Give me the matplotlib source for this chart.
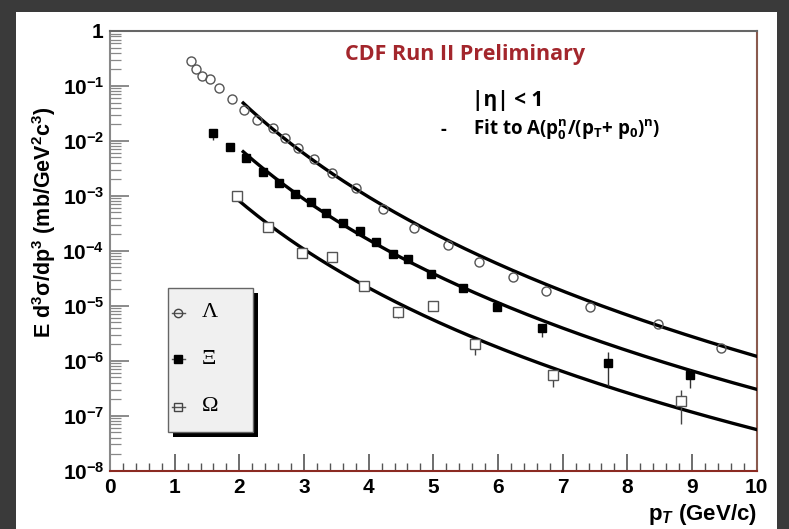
import numpy as np
import matplotlib.pyplot as plt
from matplotlib.patches import Rectangle
from matplotlib.ticker import FixedLocator, LogLocator, MultipleLocator, NullFormatter

plt.rcParams['font.family'] = 'Liberation Sans'
plt.rcParams['mathtext.fontset'] = 'custom'
plt.rcParams['mathtext.rm'] = 'Liberation Sans:bold'
plt.rcParams['mathtext.bf'] = 'Liberation Sans:bold'
plt.rcParams['mathtext.it'] = 'Liberation Sans:bold:italic'
plt.rcParams['mathtext.sf'] = 'Open Sans:bold'

# Lambda spectrum
lam_pt = [1.25, 1.33, 1.42, 1.55, 1.69, 1.88, 2.07, 2.27, 2.52, 2.71, 2.91, 3.15,
          3.44, 3.81, 4.22, 4.70, 5.22, 5.70, 6.23, 6.74, 7.43, 8.47, 9.45]
lam_val = [0.285, 0.201, 0.152, 0.132, 0.0908, 0.0573, 0.0366, 0.0244, 0.0171,
           0.01135, 0.0074, 0.00468, 0.0026, 0.00139, 5.69e-4, 2.59e-4, 1.29e-4,
           6.38e-5, 3.37e-5, 1.84e-5, 9.5e-6, 4.61e-6, 1.68e-6]

# Xi spectrum
xi_pt = [1.60, 1.85, 2.10, 2.37, 2.62, 2.86, 3.11, 3.34, 3.61, 3.86, 4.12, 4.37,
         4.61, 4.97, 5.46, 5.99, 6.68, 7.70, 8.97]
xi_val = [0.01397, 0.00787, 0.00484, 0.00273, 0.00172, 0.00109, 7.78e-4, 4.84e-4,
          3.26e-4, 2.31e-4, 1.42e-4, 8.63e-5, 7.06e-5, 3.82e-5, 2.08e-5, 9.6e-6,
          3.98e-6, 9.2e-7, 5.45e-7]
xi_err_lo = [3.6e-3, 0, 0, 0, 0, 0, 0, 0, 0, 0, 0, 0, 0, 0, 0, 0, 1.25e-6, 5.7e-7, 2.2e-7]
xi_err_hi = [0, 0, 0, 0, 0, 0, 0, 0, 0, 0, 0, 0, 0, 0, 0, 0, 0, 5.4e-7, 1.4e-7]

# Omega spectrum
om_pt = [1.96, 2.45, 2.97, 3.44, 3.92, 4.46, 4.99, 5.64, 6.85, 8.83]
om_val = [9.88e-4, 2.67e-4, 9.2e-5, 7.78e-5, 2.28e-5, 7.62e-6, 9.88e-6, 2.0e-6,
          5.56e-7, 1.82e-7]
om_err_lo = [0, 0, 0, 0, 0, 1.6e-6, 0, 7.1e-7, 2.2e-7, 1.1e-7]
om_err_hi = [0, 0, 0, 0, 0, 0, 0, 0, 0, 1.15e-7]

# fit A * (p0^n / (pT + p0)^n): A, p0, n, start of range
lam_fit = [122.2, 1.5, 9.05, 2.06]
xi_fit = [9.79, 1.5, 8.49, 2.06]
om_fit = [0.74, 1.5, 8.05, 2.00]

ytick_vals = [1e-8, 1e-7, 1e-6, 1e-5, 1e-4, 1e-3, 1e-2, 1e-1, 1]
ytick_labels = ['$10^{-8}$', '$10^{-7}$', '$10^{-6}$', '$10^{-5}$', '$10^{-4}$',
                '$10^{-3}$', '$10^{-2}$', '$10^{-1}$', '$1$']


def fit_curve(A, p0, n, start):
    pt = np.linspace(start, 10, 200)
    return pt, A * (p0 ** n / (pt + p0) ** n)


fig = plt.figure(figsize=(7.89, 5.29), dpi=100, facecolor='#3a3a3a')
# white panel inside the dark frame
fig.patches.append(Rectangle((16 / 789, 0), 761 / 789, 517 / 529,
                             transform=fig.transFigure, facecolor='white',
                             edgecolor='none', zorder=-10))
ax = fig.add_axes([110 / 789, 1 - 470.7 / 529, 646.7 / 789, 439.7 / 529])
ax.set_zorder(1)
ax.set_facecolor('white')

for fit in (lam_fit, xi_fit, om_fit):
    x, y = fit_curve(*fit)
    ax.plot(x, y, color='black', lw=2.4, zorder=3)

ax.plot(lam_pt, lam_val, 'o', ms=6.5, mfc='none', mec='#555555', mew=1.0, zorder=4)
ax.errorbar(xi_pt, xi_val, yerr=[xi_err_lo, xi_err_hi], fmt='s', ms=6,
            color='black', ecolor='#333333', elinewidth=1, capsize=0, zorder=4)
ax.errorbar(om_pt, om_val, yerr=[om_err_lo, om_err_hi], fmt='s', ms=7,
            mfc='white', mec='#555555', mew=1.0, ecolor='#444444',
            elinewidth=1, capsize=0, zorder=4)

ax.set_yscale('log')
ax.set_xlim(0, 10)
ax.set_ylim(1e-8, 1)
ax.yaxis.set_major_locator(FixedLocator(ytick_vals))
ax.set_yticklabels(ytick_labels)
ax.yaxis.set_minor_locator(LogLocator(base=10, subs=np.arange(2, 10), numticks=20))
ax.yaxis.set_minor_formatter(NullFormatter())
ax.xaxis.set_minor_locator(MultipleLocator(0.2))
ax.set_xticks(range(11))
ax.set_xticklabels([str(v) for v in range(11)])

ax.tick_params(axis='y', which='major', direction='in', length=14, width=1.2,
               color='#777777', labelsize=15, pad=4, right=False)
ax.tick_params(axis='y', which='minor', direction='in', length=8, width=0.9,
               color='#888888', right=False)
ax.tick_params(axis='x', which='major', direction='in', length=12, width=1.2,
               color='#555555', labelsize=15, pad=5, top=False)
ax.tick_params(axis='x', which='minor', direction='in', length=6, width=1.0,
               color='#555555', top=False)
for lbl in ax.get_xticklabels():
    lbl.set_fontweight('bold')

ax.spines['top'].set_color('#666666')
ax.spines['left'].set_color('#888888')
ax.spines['right'].set_color('#8a5a4e')
ax.spines['bottom'].set_color('#8b2a22')
for s in ax.spines.values():
    s.set_linewidth(1.5)

ax.set_ylabel(r'E d$^3$σ/dp$^3$ (mb/GeV$^2$c$^3$)', fontsize=15.5, fontweight='bold')
ax.yaxis.set_label_coords(-0.08, 0.566)
ax.set_xlabel(r'p$_T$ (GeV/c)', fontsize=16, fontweight='bold', ha='right')
ax.xaxis.set_label_coords(1.0, -0.072)

ax.text(0.549, 0.946, 'CDF Run II Preliminary', transform=ax.transAxes,
        ha='center', va='center', fontsize=15.5, family='Open Sans',
        fontweight='bold', color='#a3262c')
ax.text(0.615, 0.843, '|η| < 1', transform=ax.transAxes, ha='center',
        va='center', fontsize=15, family='Open Sans', fontweight='bold')
ax.text(0.515, 0.775, '-', transform=ax.transAxes, ha='center', va='center',
        fontsize=13, family='Open Sans', fontweight='bold')
ax.text(0.561, 0.775,
        r'Fit to A(p$\mathsf{_0^n}$/(p$\mathsf{_T}$+ p$\mathsf{_0}$)$\mathsf{^n}$)',
        transform=ax.transAxes, ha='left', va='center', fontsize=13.5,
        family='Open Sans', fontweight='bold')

# legend box with drop shadow
bx0, bx1, by0, by1 = 0.0897, 0.2211, 0.088, 0.4155
ax.add_patch(Rectangle((bx0 + 0.008, by0 - 0.0115), bx1 - bx0, by1 - by0,
                       transform=ax.transAxes, facecolor='black',
                       edgecolor='none', zorder=6))
ax.add_patch(Rectangle((bx0, by0), bx1 - bx0, by1 - by0, transform=ax.transAxes,
                       facecolor='#f0f0f0', edgecolor='#666666', lw=1.0, zorder=7))
entries = [('Λ', 'o', 'none', 0.3587), ('Ξ', 's', 'black', 0.254), ('Ω', 's', 'none', 0.1449)]
for name, mk, face, yy in entries:
    ax.plot([0.0959, 0.1160], [yy, yy], transform=ax.transAxes, color='#555555',
            lw=1.0, zorder=8, clip_on=False)
    ax.plot([0.1051], [yy], mk, transform=ax.transAxes, ms=6, mfc=face,
            mec='#444444' if face == 'none' else 'black', mew=1.0, zorder=9,
            clip_on=False)
    ax.text(0.142, yy, name, transform=ax.transAxes, ha='left', va='center',
            fontsize=16, family='Liberation Serif', zorder=9)

fig.savefig('out.png', dpi=100, facecolor=fig.get_facecolor())
